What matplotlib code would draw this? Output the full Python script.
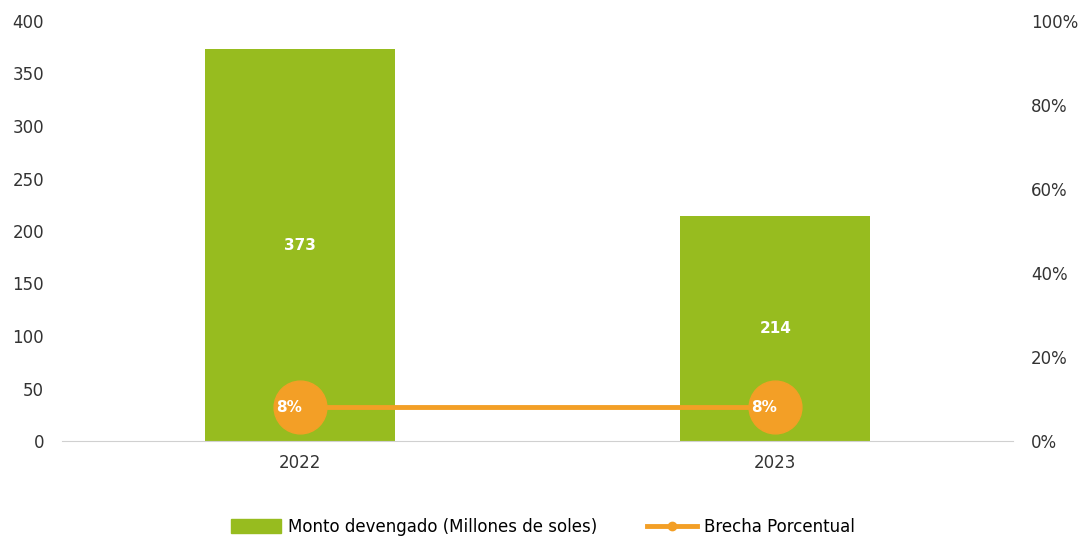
import matplotlib
matplotlib.use("Agg")
import matplotlib.pyplot as plt
from matplotlib.ticker import PercentFormatter

# data
years = ["2022", "2023"]
monto = [373, 214]            # Monto devengado (Millones de soles)
brecha = [0.08, 0.08]         # Brecha Porcentual

GREEN, ORANGE, GREY = "#97BC1F", "#F39F26", "#D0D0D0"
plt.rcParams.update({"font.family": ["DejaVu Sans"], "font.size": 12})

fig = plt.figure(figsize=(10.86, 5.39), dpi=100)
ax = fig.add_axes([62 / 1086, 98 / 539, 951 / 1086, 420 / 539])
x = list(range(len(years)))

ax.bar(x, monto, 0.4, color=GREEN, label="Monto devengado (Millones de soles)", zorder=2)
for xi, v in zip(x, monto):
    ax.text(xi, v / 2, f"{v}", ha="center", va="center", color="white",
            fontsize=11, fontweight="bold")
ax.set_ylim(0, 400)
ax.set_xlim(-0.5, 1.5)
ax.set_yticks(range(0, 401, 50))
ax.set_xticks(x); ax.set_xticklabels(years)
for s in ("top", "right", "left"):
    ax.spines[s].set_visible(False)
ax.spines["bottom"].set_color(GREY)
ax.tick_params(axis="both", length=0, colors="#333333", labelsize=12)
ax.tick_params(axis="x", pad=9)
ax.tick_params(axis="y", pad=13)

ax2 = ax.twinx()
ax2.plot(x, brecha, "-", color=ORANGE, lw=3.5, marker="o", ms=38, zorder=3)
for xi, v in zip(x, brecha):
    ax2.text(xi - 0.023, v, f"{v:.0%}", ha="center", va="center", color="white",
             fontsize=11, fontweight="bold", zorder=4)
ax2.set_ylim(0, 1)
ax2.yaxis.set_major_formatter(PercentFormatter(1.0, decimals=0))
ax2.set_yticks([0, 0.2, 0.4, 0.6, 0.8, 1.0])
for s in ("top", "right", "left", "bottom"):
    ax2.spines[s].set_visible(False)
ax2.tick_params(axis="y", length=0, colors="#333333", labelsize=12, pad=13)

# legend with small markers
h1 = plt.Rectangle((0, 0), 1, 1, color=GREEN)
h2 = plt.Line2D([], [], color=ORANGE, lw=3.5, marker="o", ms=6)
fig.legend([h1, h2], ["Monto devengado (Millones de soles)", "Brecha Porcentual"],
           loc="center", bbox_to_anchor=(0.5, 1 - 527 / 539), ncol=2, frameon=False,
           fontsize=12, handlelength=3.0, handleheight=0.9, columnspacing=3.0,
           handletextpad=0.4)

fig.savefig("out.png", dpi=100)
